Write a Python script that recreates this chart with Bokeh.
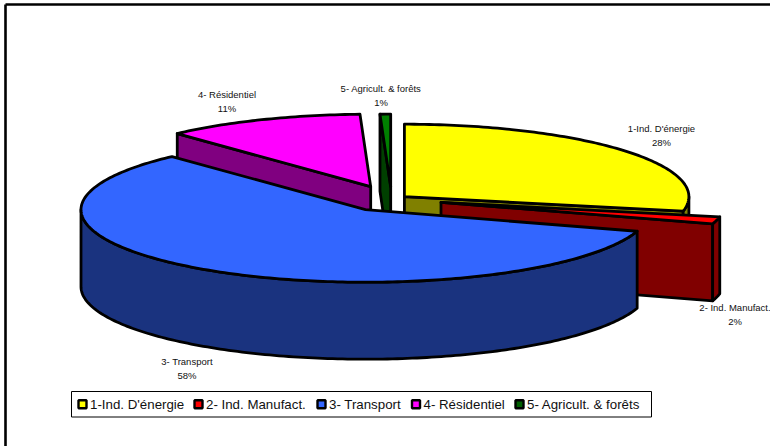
import math
from bokeh.plotting import figure
from bokeh.models import Range1d, ColumnDataSource
from bokeh.core.properties import value
from bokeh.embed import file_html
from bokeh.resources import INLINE

# --- data
categories = ["1-Ind. D'énergie", "2- Ind. Manufact.", "3- Transport", "4- Résidentiel", "5- Agricult. & forêts"]
shares = [28.2, 1.6, 58.3, 11.3, 0.6]
pct_labels = ["28%", "2%", "58%", "11%", "1%"]

# --- styles
top_colors = ["#FFFF00", "#FF0000", "#3366FF", "#FF00FF", "#008000"]
side_colors = ["#808000", "#800000", "#1A337F", "#800080", "#004000"]

# --- geometry of the projected pie
W, H = 770, 446
RX, RY, DEPTH = 284.5, 72.5, 77.0
CX, CY = 381.4, 202.3
apex_off = [(23.0, -5.6), (59.6, 0.0), (-15.9, 7.4), (-10.7, -15.6), (9.3, -15.6)]
label_pos = [(661.5, 128), (735, 307), (187, 361), (227, 94), (381, 88)]
legend_box = (71.5, 391.5, 651.5, 417)
legend_x = [90, 206, 329, 423.5, 527]

p = figure(width=W, height=H, output_backend="svg", toolbar_location=None,
           x_range=Range1d(0.5, W + 0.5), y_range=Range1d(H + 0.5, 0.5),
           min_border=0, outline_line_color=None, background_fill_color="white")
p.styles = {"position": "absolute", "left": "0px", "top": "0px"}
p.axis.visible = False
p.grid.visible = False

# edges
p.segment(x0=[5.5, 5.5], y0=[4.5, 4.5], x1=[W + 1, 5.5], y1=[4.5, H + 1], line_color="black", line_width=2.6)


def pt(apex, deg):
    a = math.radians(deg)
    return (apex[0] + RX * math.sin(a), apex[1] - RY * math.cos(a))


def arc(apex, a0, a1, step=1.0):
    n = max(2, int(abs(a1 - a0) / step) + 1)
    return [pt(apex, a0 + (a1 - a0) * i / (n - 1)) for i in range(n)]


shapes = {"x": [], "y": [], "c": []}


def add(points, color):
    shapes["x"].append([q[0] for q in points])
    shapes["y"].append([q[1] for q in points])
    shapes["c"].append(color)


def shift(points):
    return [(q[0], q[1] + DEPTH) for q in points]


edges = [0.0]
for s in shares:
    edges.append(edges[-1] + s / sum(shares) * 360.0)

slices = []
for i in range(len(shares)):
    apex = (CX + apex_off[i][0], CY + apex_off[i][1])
    slices.append((i, apex, edges[i], edges[i + 1]))

# back to front: yellow, red, green, magenta, blue
for i in [0, 1, 4, 3, 2]:
    _, apex, a0, a1 = slices[i]
    # flat cut faces that look toward the viewer
    if 90 < a1 < 180:
        f = [apex, pt(apex, a1)]
        add(f + shift(f)[::-1], side_colors[i])
    if 180 < a0 < 360 and a0 > 270:
        f = [apex, pt(apex, a0)]
        add(f + shift(f)[::-1], side_colors[i])
    # outer wall
    lo, hi = max(a0, 90), min(a1, 270)
    if lo < hi:
        w = arc(apex, lo, hi)
        add(w + shift(w)[::-1], side_colors[i])
    # top
    add([apex] + arc(apex, a0, a1), top_colors[i])

p.patches("x", "y", source=ColumnDataSource(shapes), fill_color="c", line_color="black",
          line_width=2.8, line_join="round")

# data labels
FONT = value("Liberation Sans")
for name, pct, (lx, ly) in zip(categories, pct_labels, label_pos):
    p.text(x=[lx, lx], y=[ly, ly + 14], text=[name, pct], text_font=FONT, text_font_size="9.5px",
           text_color="#111111", text_align="center", text_baseline="middle")

# legend
x0, y0, x1, y1 = legend_box
p.quad(left=[x0], right=[x1], top=[y0], bottom=[y1], fill_color="white", line_color="black", line_width=1)
ym = (y0 + y1) / 2
p.scatter(x=[x - 7.5 for x in legend_x], y=[ym] * 5, marker="square", size=8,
          fill_color=top_colors[:4] + ["#006000"], line_color="black", line_width=2.4)
p.text(x=legend_x, y=[ym] * 5, text=categories, text_font=FONT, text_font_size="13.3px",
       text_color="#111111", text_align="left", text_baseline="middle")

open("out.html", "w").write(file_html(p, INLINE))
